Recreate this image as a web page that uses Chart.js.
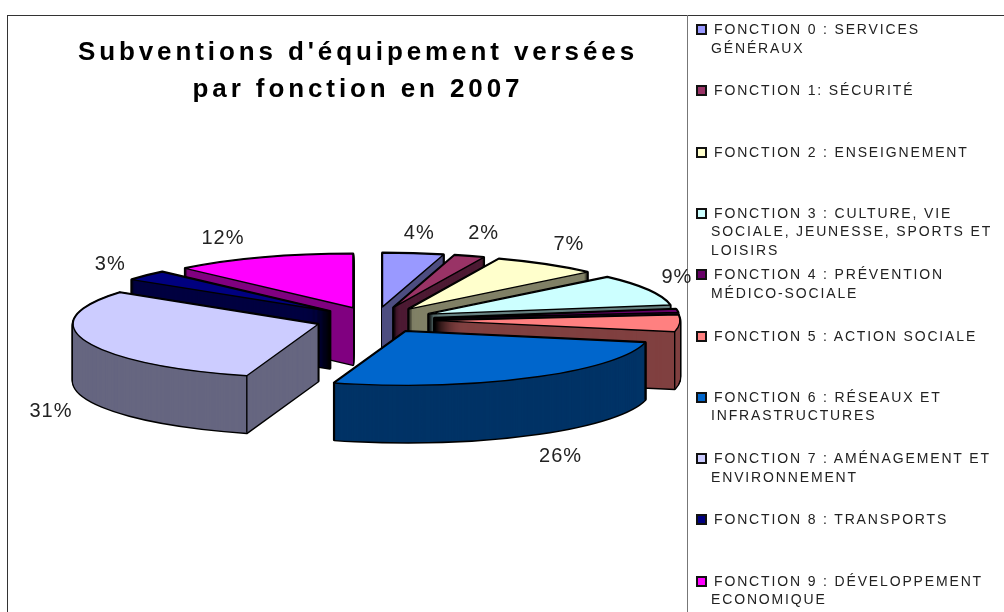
<!DOCTYPE html>
<html lang="fr">
<head>
<meta charset="utf-8">
<title>Subventions d'équipement</title>
<script src="https://cdn.jsdelivr.net/npm/chart.js@4"></script>
<style>
    html, body { margin: 0; padding: 0; background: #fff; }
    #page { position: relative; width: 1004px; height: 612px; overflow: hidden; font-family: "Liberation Sans", Arial, sans-serif; }
    #frame { position: absolute; left: 7px; top: 15px; width: 1010px; height: 620px; border: 1px solid #333; box-sizing: border-box; }
    #divider { position: absolute; left: 687px; top: 15px; width: 1px; height: 600px; background: #777; }
    #chart-box { position: absolute; left: 0; top: 0; width: 716px; height: 612px; }
    #pie { display: block; }
    .legend-item { position: absolute; left: 696px; font-size: 14px; line-height: 18.5px; letter-spacing: 1.85px; color: #222; white-space: nowrap; }
    .legend-item i { position: absolute; left: 0; top: 4px; width: 7px; height: 7px; border: 2px solid #111; }
    .legend-item span { display: block; margin-left: 15px; }
    .legend-item span:first-of-type { margin-left: 18px; }
</style>
</head>
<body>
<div id="page">
    <div id="frame"></div>
    <div id="divider"></div>
    <div id="chart-box"><canvas id="pie" width="716" height="612"></canvas></div>
    <div id="legend"></div>
</div>
<script>
const categories = [
    ["FONCTION 0 : SERVICES", "GÉNÉRAUX"],
    ["FONCTION 1: SÉCURITÉ"],
    ["FONCTION 2 : ENSEIGNEMENT"],
    ["FONCTION 3 : CULTURE, VIE", "SOCIALE, JEUNESSE, SPORTS ET", "LOISIRS"],
    ["FONCTION 4 : PRÉVENTION", "MÉDICO-SOCIALE"],
    ["FONCTION 5 : ACTION SOCIALE"],
    ["FONCTION 6 : RÉSEAUX ET", "INFRASTRUCTURES"],
    ["FONCTION 7 : AMÉNAGEMENT ET", "ENVIRONNEMENT"],
    ["FONCTION 8 : TRANSPORTS"],
    ["FONCTION 9 : DÉVELOPPEMENT", "ECONOMIQUE"],
];
const values = [4.0, 2.0, 7.0, 9.3, 1.0, 5.0, 26.4, 30.3, 3.0, 12.0];
const shownLabels = ["4%", "2%", "7%", "9%", "", "", "26%", "31%", "3%", "12%"];
const topColors = ["#9999FF", "#993366", "#FFFFCC", "#CCFFFF", "#660066", "#FF8080", "#0066CC", "#CCCCFF", "#000080", "#FF00FF"];
const wallColors = ["#4D4D80", "#4D1A33", "#808066", "#668080", "#330033", "#804040", "#003366", "#666680", "#000040", "#800080"];

// 3D look: the flat pie is squashed and every slice is pushed out from the middle
const CENTER_X = 375;
const CENTER_Y = 320;
const SQUASH = 0.22;
const DEPTH = 57;
const EXPLODE = 60;
const LABEL_RADIUS = 345;
// hand nudges, the spreadsheet does not place its labels strictly on the radius
const labelNudge = [[1, 3], [2, 0], [0, 1], [-7, 5], [0, 0], [0, 0], [10, 2], [3, -2], [-6, 9], [-25, 3]];

function slicePath(ctx, cx, cy, el) {
    ctx.beginPath();
    ctx.moveTo(cx, cy);
    ctx.ellipse(cx, cy, el.outerRadius, el.outerRadius * SQUASH, 0, el.startAngle, el.endAngle);
    ctx.closePath();
}

function sliceOrigin(el) {
    const mid = (el.startAngle + el.endAngle) / 2;
    return {
        mid,
        x: CENTER_X + Math.cos(mid) * EXPLODE,
        y: CENTER_Y + Math.sin(mid) * EXPLODE * SQUASH,
    };
}

const pie3d = {
    id: "pie3d",
    beforeDraw(chart) {
        chart.ctx.letterSpacing = "3.9px";
    },
    beforeDatasetDraw(chart) {
        const ctx = chart.ctx;
        const arcs = chart.getDatasetMeta(0).data;
        ctx.letterSpacing = "0px";

        // back slices first
        const order = arcs.map((el, i) => i).sort((a, b) => {
            return Math.sin(sliceOrigin(arcs[a]).mid) - Math.sin(sliceOrigin(arcs[b]).mid);
        });

        for (const i of order) {
            const el = arcs[i];
            const o = sliceOrigin(el);

            ctx.save();
            ctx.lineJoin = "round";
            ctx.strokeStyle = "#000";
            ctx.lineWidth = 2.8;
            for (let d = DEPTH; d >= 0; d--) {
                slicePath(ctx, o.x, o.y + d, el);
                ctx.stroke();
            }
            ctx.fillStyle = wallColors[i];
            for (let d = DEPTH; d >= 0; d--) {
                slicePath(ctx, o.x, o.y + d, el);
                ctx.fill();
            }

            // edges between the walls, only on the side that faces us
            ctx.lineWidth = 1.4;
            for (const a of [el.startAngle, el.endAngle]) {
                if (Math.sin(a) <= 0) continue;
                const cornerX = o.x + Math.cos(a) * el.outerRadius;
                const cornerY = o.y + Math.sin(a) * el.outerRadius * SQUASH;
                ctx.beginPath();
                ctx.moveTo(cornerX, cornerY);
                ctx.lineTo(cornerX, cornerY + DEPTH);
                ctx.stroke();
            }
            ctx.restore();

            // top face is the library's own arc, only squashed and moved
            ctx.save();
            ctx.translate(o.x, o.y);
            ctx.scale(1, SQUASH);
            ctx.translate(-el.x, -el.y);
            el.draw(ctx);
            ctx.restore();

            ctx.save();
            ctx.strokeStyle = "#000";
            ctx.lineWidth = 1.4;
            ctx.lineJoin = "round";
            slicePath(ctx, o.x, o.y, el);
            ctx.stroke();
            ctx.restore();
        }
        return false;
    },
    afterDatasetsDraw(chart) {
        const ctx = chart.ctx;
        const arcs = chart.getDatasetMeta(0).data;
        ctx.save();
        ctx.font = '20px "Liberation Sans", Arial, sans-serif';
        ctx.letterSpacing = "1px";
        ctx.fillStyle = "#222";
        ctx.textAlign = "center";
        ctx.textBaseline = "middle";
        arcs.forEach((el, i) => {
            if (!shownLabels[i]) return;
            const mid = sliceOrigin(el).mid;
            const sin = Math.sin(mid);
            const x = CENTER_X + Math.cos(mid) * LABEL_RADIUS + labelNudge[i][0];
            const y = CENTER_Y + sin * LABEL_RADIUS * SQUASH + (sin > 0 ? DEPTH + 12 : -14) + labelNudge[i][1];
            ctx.fillText(shownLabels[i], x, y);
        });
        ctx.restore();
    },
};

const legendEl = document.getElementById("legend");
categories.forEach((lines, i) => {
    const item = document.createElement("div");
    item.className = "legend-item";
    item.style.top = (20 + 61.3 * i) + "px";
    const box = document.createElement("i");
    box.style.background = topColors[i];
    item.appendChild(box);
    lines.forEach((line) => {
        const row = document.createElement("span");
        row.textContent = line;
        item.appendChild(row);
    });
    legendEl.appendChild(item);
});

new Chart(document.getElementById("pie"), {
    type: "pie",
    data: {
        labels: categories.map((lines) => lines.join(" ")),
        datasets: [{
            data: values,
            backgroundColor: topColors,
            borderWidth: 0,
        }],
    },
    options: {
        responsive: false,
        animation: false,
        radius: 245,
        plugins: {
            legend: { display: false },
            tooltip: { enabled: false },
            title: {
                display: true,
                text: ["Subventions d'équipement versées", "par fonction en 2007"],
                color: "#000",
                padding: { top: 34, bottom: 10 },
                font: { family: '"Liberation Sans", Arial, sans-serif', size: 26, weight: "bold", lineHeight: 1.42 },
            },
        },
    },
    plugins: [pie3d],
});
</script>
</body>
</html>
